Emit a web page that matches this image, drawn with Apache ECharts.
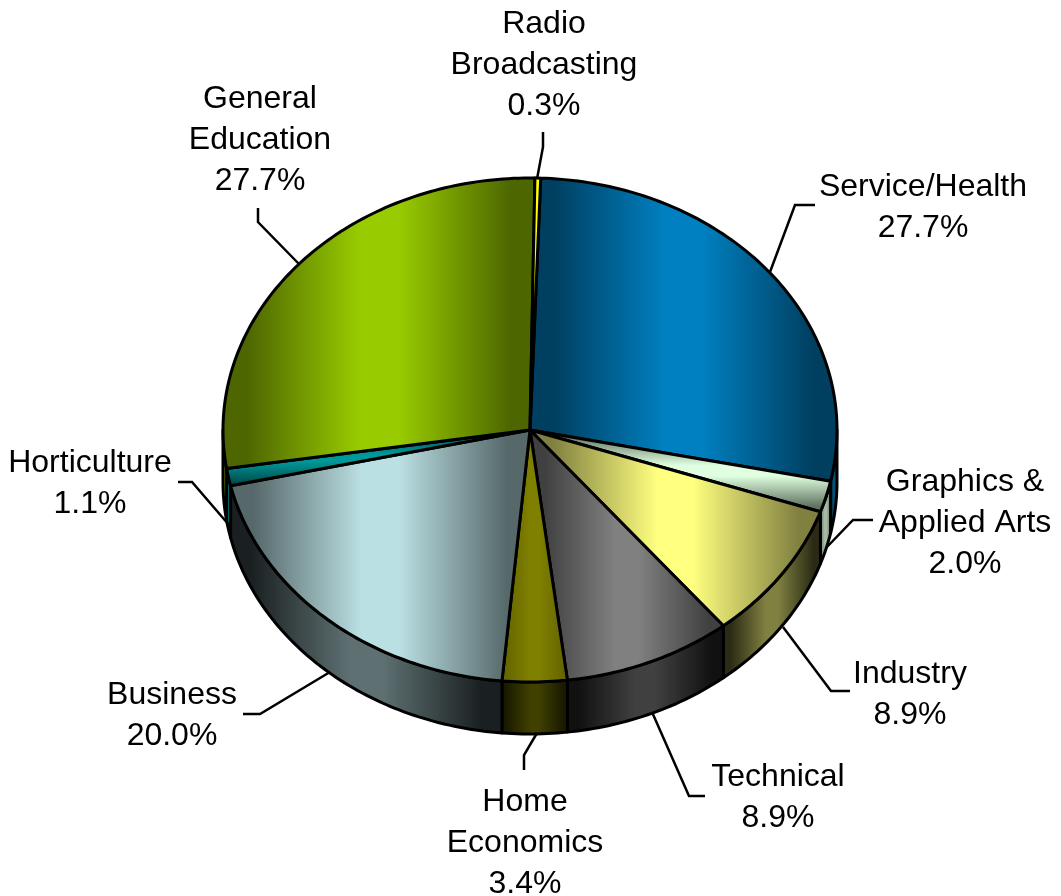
<!DOCTYPE html>
<html>
<head>
<meta charset="utf-8">
<title>Pie</title>
<style>
html, body { margin: 0; padding: 0; background: #fff; }
#chart { width: 1061px; height: 896px; }
</style>
<script src="https://cdn.jsdelivr.net/npm/echarts@6/dist/echarts.min.js"></script>
</head>
<body>
<div id="chart"></div>
<script>
// data, clockwise from the top of the pie
var categories = ['Service/Health', 'Graphics &\nApplied Arts', 'Industry', 'Technical', 'Home\nEconomics', 'Business', 'Horticulture', 'General\nEducation', 'Radio\nBroadcasting'];
var shares = [27.7, 2.0, 8.9, 8.9, 3.4, 20.0, 1.1, 27.7, 0.3];

// slice colours: [middle, edge] of the gradient
var topColors = [['#0080c0', '#003f60'], ['#e0ffe0', '#5f7360'], ['#ffff80', '#808040'], ['#808080', '#404040'], ['#808000', '#666600'], ['#bbe0e3', '#56686a'], ['#009999', '#004d4d'], ['#99cc00', '#4d6600'], ['#ffff00', '#ffff00']];
var wallColors = [['#00527c', '#002c44'], ['#a8bca8', '#627062'], ['#808040', '#2a2a15'], ['#404040', '#111111'], ['#404000', '#1a1a00'], ['#5e7072', '#1a2021'], ['#008080', '#006060'], ['#6e8a00', '#556a00'], ['#808000', '#808000']];
// small slices are shaded top to bottom
var verticalShade = [false, true, false, false, false, false, true, false, false];

// label box centre and leader line, in px
var labelLayout = [
    {x: 923, y: 208, line: [[815, 205], [795, 205], [770, 272]]},
    {x: 965, y: 523, line: [[873, 520], [853, 520], [826, 548]]},
    {x: 910, y: 695, line: [[850, 691], [831, 691], [783, 627]]},
    {x: 778, y: 798, line: [[705, 796], [689, 796], [652, 712]]},
    {x: 525, y: 843, line: [[524, 770], [524, 755], [537, 733]]},
    {x: 172, y: 716, line: [[243, 714], [260, 714], [330, 672]]},
    {x: 90, y: 484, line: [[178, 482], [192, 482], [229, 525]]},
    {x: 260, y: 140, line: [[258, 208], [258, 222], [299, 264]]},
    {x: 544, y: 65, line: [[543, 132], [543, 147], [537, 179]]}
];

var cx = 530, cy = 430, rx = 307, ry = 252, depth = 52, startAngle = 2;

var total = shares.reduce(function (a, b) { return a + b; }, 0);

function sliceRange(i) {
    var before = 0;
    for (var k = 0; k < i; k++) {
        before += shares[k];
    }
    var a = startAngle + before / total * 360;
    return [a, a + shares[i] / total * 360];
}

function rim(deg, drop) {
    var r = deg * Math.PI / 180;
    return [cx + rx * Math.sin(r), cy - ry * Math.cos(r) + drop];
}

function arc(a, b, drop) {
    var pts = [];
    var n = Math.max(2, Math.ceil(Math.abs(b - a)));
    for (var i = 0; i <= n; i++) {
        pts.push(rim(a + (b - a) * i / n, drop));
    }
    return pts;
}

function shade(c, vertical) {
    return new echarts.graphic.LinearGradient(0, 0, vertical ? 0 : 1, vertical ? 1 : 0, [
        {offset: 0, color: c[1]},
        {offset: 0.08, color: c[1]},
        {offset: 0.44, color: c[0]},
        {offset: 0.56, color: c[0]},
        {offset: 0.92, color: c[1]},
        {offset: 1, color: c[1]}
    ]);
}

function renderWall(params) {
    var i = params.dataIndex, range = sliceRange(i);
    var a = Math.max(range[0], 90), b = Math.min(range[1], 270);
    if (b <= a) {
        return {type: 'group', children: []};
    }
    var pts = arc(a, b, 0).concat(arc(b, a, depth));
    return {
        type: 'polygon',
        shape: {points: pts},
        style: {fill: shade(wallColors[i], false), stroke: '#000', lineWidth: 3, lineJoin: 'round'}
    };
}

function renderTop(params) {
    var i = params.dataIndex, range = sliceRange(i);
    var pts = [[cx, cy]].concat(arc(range[0], range[1], 0));
    return {
        type: 'polygon',
        shape: {points: pts},
        style: {fill: shade(topColors[i], verticalShade[i]), stroke: '#000', lineWidth: 3, lineJoin: 'round'}
    };
}

function renderLabel(params, api) {
    var i = params.dataIndex, pos = labelLayout[i];
    return {
        type: 'group',
        children: [
            {
                type: 'polyline',
                shape: {points: pos.line},
                style: {fill: null, stroke: '#000', lineWidth: 2.5}
            },
            {
                type: 'text',
                style: {
                    x: pos.x,
                    y: pos.y,
                    text: categories[i] + '\n' + api.value(0).toFixed(1) + '%',
                    align: 'center',
                    verticalAlign: 'middle',
                    font: '32px "Liberation Sans", Arial, sans-serif',
                    lineHeight: 41,
                    fill: '#000'
                }
            }
        ]
    };
}

var myChart = echarts.init(document.getElementById('chart'), null, {renderer: 'canvas'});
myChart.setOption({
    backgroundColor: '#fff',
    animation: false,
    tooltip: {show: false},
    series: [
        {type: 'custom', coordinateSystem: 'none', renderItem: renderWall, data: shares, z: 1, silent: true},
        {type: 'custom', coordinateSystem: 'none', renderItem: renderTop, data: shares, z: 2, silent: true},
        {type: 'custom', coordinateSystem: 'none', renderItem: renderLabel, data: shares, z: 3, silent: true}
    ]
});
</script>
</body>
</html>
